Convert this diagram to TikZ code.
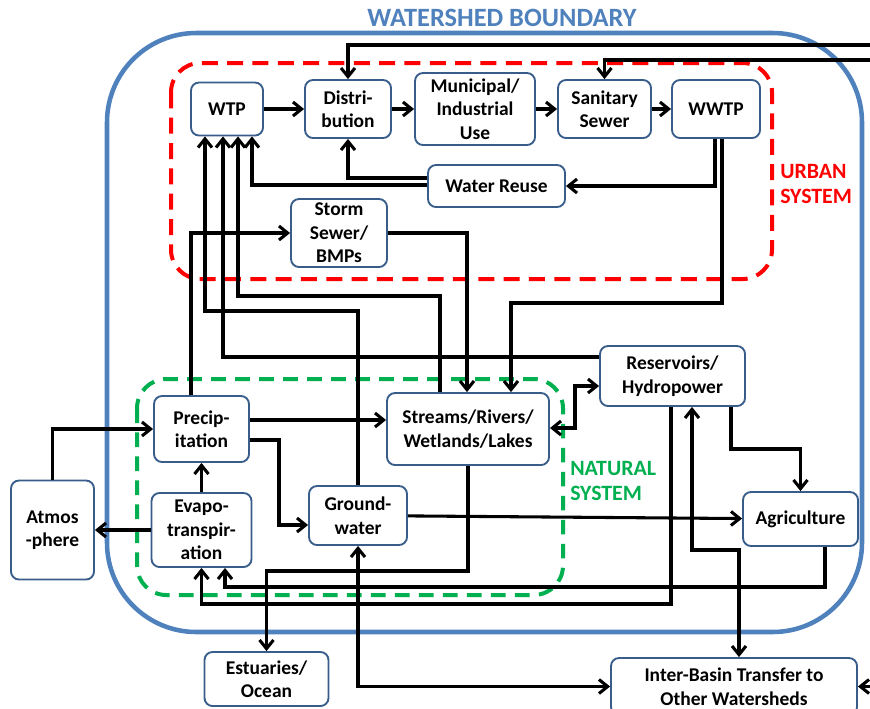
\documentclass[tikz,border=0pt]{standalone}
\usepackage{fontspec}
\setmainfont{Carlito}
\usetikzlibrary{arrows.meta}
\definecolor{shedblue}{RGB}{79,129,189}
\definecolor{boxline}{RGB}{56,93,138}
\definecolor{urbanred}{RGB}{255,0,0}
\definecolor{natgreen}{RGB}{0,176,80}

\begin{document}
\begin{tikzpicture}[x=0.75pt,y=-0.75pt,
		box/.style={draw=boxline,line width=1.4pt,rounded corners=6pt,fill=white,align=center,inner sep=1pt,font=\bfseries\fontsize{14.6}{17.6}\selectfont},
		arr/.style={line width=2.3pt,-{Straight Barb[length=6.5pt,width=10.5pt]}},
		arrr/.style={line width=2.3pt,{Straight Barb[length=6.5pt,width=10.5pt]}-{Straight Barb[length=6.5pt,width=10.5pt]}},
		syslabel/.style={font=\bfseries\fontsize{16.4}{18.5}\selectfont,align=left,anchor=west,inner sep=0pt}]

		\useasboundingbox (0,0) rectangle (870,708);

		\draw [shedblue,line width=3.4pt,rounded corners=67pt] (107,33) rectangle (862,632);
		\draw [urbanred,line width=3pt,dash pattern=on 12pt off 7pt,rounded corners=22pt] (171,63) rectangle (772,279);
		\draw [natgreen,line width=3pt,dash pattern=on 11pt off 7pt,rounded corners=22pt] (137,379) rectangle (563,595);

		\node [font=\bfseries\fontsize{19.8}{22}\selectfont,text=shedblue] (title) at (502,18) {WATERSHED BOUNDARY};
		\node [syslabel,text=urbanred] (urban) at (780,184) {URBAN\\SYSTEM};
		\node [syslabel,text=natgreen] (natural) at (570,481) {NATURAL\\SYSTEM};

		\node [box,minimum width=54pt,minimum height=39.75pt] (wtp) at (227,109) {WTP};
		\node [box,minimum width=64.5pt,minimum height=43.5pt] (dist) at (348,109) {Distri-\\bution};
		\node [box,minimum width=90pt,minimum height=54pt] (muni) at (475,109) {Municipal/\\Industrial\\Use};
		\node [box,minimum width=69.75pt,minimum height=43.5pt] (san) at (604.5,109) {Sanitary\\Sewer};
		\node [box,minimum width=66pt,minimum height=43.5pt] (wwtp) at (716,109) {WWTP};
		\node [box,minimum width=102.75pt,minimum height=31.5pt] (reuse) at (496.5,186) {Water Reuse};
		\node [box,minimum width=72pt,minimum height=51pt] (storm) at (339,233) {Storm\\Sewer/\\BMPs};
		\node [box,minimum width=108.75pt,minimum height=45pt] (res) at (672.5,376) {Reservoirs/\\Hydropower};
		\node [box,minimum width=71.25pt,minimum height=49.5pt] (precip) at (201.5,429) {Precip-\\itation};
		\node [box,minimum width=121.5pt,minimum height=54pt] (streams) at (468,429) {Streams/Rivers/\\Wetlands/Lakes};
		\node [box,minimum width=75pt,minimum height=55.5pt] (evap) at (201.5,530) {Evapo-\\transpir-\\ation};
		\node [box,minimum width=73.5pt,minimum height=44.25pt] (gw) at (358,515.5) {Ground-\\water};
		\node [box,minimum width=86.25pt,minimum height=40.5pt] (agri) at (800.5,519) {Agriculture};
		\node [box,minimum width=62.25pt,minimum height=74.25pt] (atmos) at (52.5,530) {Atmos\\-phere};
		\node [box,minimum width=93pt,minimum height=40.5pt] (est) at (266.5,679) {Estuaries/\\Ocean};
		\node [box,minimum width=184.5pt,minimum height=42.75pt] (ibt) at (734,686.5) {Inter-Basin Transfer to\\Other Watersheds};

		\coordinate (inDist) at (880,45);
		\coordinate (inSan) at (880,60);
		\coordinate (inIbt) at (880,686.5);

		% urban system
		\draw [arr] (wtp) -- (dist);
		\draw [arr] (dist) -- (muni);
		\draw [arr] (muni) -- (san);
		\draw [arr] (san) -- (wwtp);
		\draw [arr] (inDist) -| (dist.north);
		\draw [arr] (inSan) -| (san.north);
		\draw [arr] (715,0 |- wwtp.south) |- (reuse.east);
		\draw [arr] (722,0 |- wwtp.south) |- (511,303) -- (511,0 |- streams.north);
		\draw [arr] (reuse.west |- 0,178) -| (dist.south);
		\draw [arr] (reuse.west |- 0,185) -| (252,0 |- wtp.south);
		\draw [arr] (gw.north) |- (205,311) -- (205,0 |- wtp.south);
		\draw [arr] (res.west |- 0,357) -| (223,0 |- wtp.south);
		\draw [arr] (440,0 |- streams.north) |- (238,296) -- (238,0 |- wtp.south);
		\draw [arr] (191,0 |- precip.north) |- (storm.west);
		\draw [arr] (storm.east) -| (467,0 |- streams.north);

		% natural system
		\draw [arr] (precip.east |- 0,420) -- (streams.west |- 0,420);
		\draw [arr] (precip.east |- 0,440) -| (279,525) -- (gw.west |- 0,525);
		\draw [arr] (evap) -- (precip);
		\draw [arr] (evap) -- (atmos);
		\draw [arr] (atmos.north) |- (precip.west);
		\draw [arrr] (streams.east |- 0,428) -| (575,386) -- (res.west |- 0,386);
		\draw [arr] (671,0 |- res.south) |- (201.5,604) -- (evap.south);
		\draw [arrr] (692,0 |- res.south) |- (739,550) -- (739,0 |- ibt.north);
		\draw [arr] (731,0 |- res.south) |- (800.5,449) -- (agri.north);
		\draw [arr] (825,0 |- agri.south) |- (225,587) -- (225,0 |- evap.south);
		\draw [arr] (gw) -- (agri);
		\draw [arr] (streams.south) |- (266.5,571) -- (est.north);
		\draw [arrr] (gw.south) |- (ibt.west);
		\draw [arr] (inIbt) -- (ibt.east);

	\end{tikzpicture}
\end{document}
